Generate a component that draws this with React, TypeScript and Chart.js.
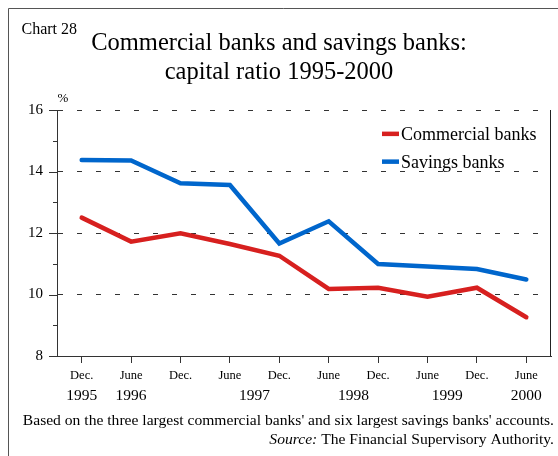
import React, { useEffect, useRef } from "react";
import { Chart, registerables } from "chart.js";

Chart.register(...registerables);

const categories = ["Dec.", "June", "Dec.", "June", "Dec.", "June", "Dec.", "June", "Dec.", "June"];
const commercialBanks = [12.5, 11.72, 11.99, 11.64, 11.26, 10.18, 10.22, 9.93, 10.22, 9.26];
const savingsBanks = [14.37, 14.36, 13.62, 13.56, 11.66, 12.38, 10.99, 10.91, 10.83, 10.49];
const years = ["1995", "1996", "1997", "1998", "1999", "2000"];
const yearPositions = [0, 1, 3.5, 5.5, 7.4, 9];
const seriesNames = ["Commercial banks", "Savings banks"];
const seriesColors = ["#d7201f", "#0066cc"];

const SERIF = "'Liberation Serif', 'Times New Roman', serif";

const decorPlugin = {
  id: "decor",
  afterDraw(chart: any) {
    const ctx = chart.ctx as CanvasRenderingContext2D;
    const area = chart.chartArea;
    const xs = chart.scales.x;
    const ys = chart.scales.y;
    ctx.save();

    // outer frame
    ctx.strokeStyle = "#555";
    ctx.lineWidth = 1;
    ctx.beginPath();
    ctx.moveTo(8.5, 456);
    ctx.lineTo(8.5, 8.5);
    ctx.lineTo(558, 8.5);
    ctx.stroke();

    // right border of plot
    ctx.strokeStyle = "#222";
    ctx.beginPath();
    ctx.moveTo(Math.round(area.right) - 0.5, area.top);
    ctx.lineTo(Math.round(area.right) - 0.5, area.bottom);
    ctx.stroke();

    // y ticks
    ctx.strokeStyle = "#333";
    for (let v = 8; v <= 16; v++) {
      const py = Math.round(ys.getPixelForValue(v)) + 0.5;
      const len = v % 2 === 0 ? 8 : 4;
      ctx.beginPath();
      ctx.moveTo(area.left - len, py);
      ctx.lineTo(area.left, py);
      ctx.stroke();
    }

    ctx.fillStyle = "#000";
    // Chart label
    ctx.font = `16px ${SERIF}`;
    ctx.textAlign = "left";
    ctx.textBaseline = "alphabetic";
    ctx.fillText("Chart 28", 21.5, 33.5);

    // title
    ctx.font = `24.5px ${SERIF}`;
    ctx.textAlign = "center";
    ctx.fillText("Commercial banks and savings banks:", 279, 49.5);
    ctx.fillText("capital ratio 1995-2000", 279, 78.5);

    // % unit
    ctx.font = `13px ${SERIF}`;
    ctx.fillText("%", 63, 101.5);

    // years
    ctx.font = `15.5px ${SERIF}`;
    ctx.textBaseline = "middle";
    years.forEach((y, i) => {
      ctx.fillText(y, xs.getPixelForValue(yearPositions[i]), 396);
    });

    // legend
    ctx.textAlign = "left";
    ctx.textBaseline = "alphabetic";
    ctx.font = `18px ${SERIF}`;
    chart.data.datasets.forEach((ds: any, i: number) => {
      const cy = 133.8 + i * 27.8;
      ctx.fillStyle = ds.borderColor;
      ctx.fillRect(382, cy - 2.2, 17, 4.5);
      ctx.fillStyle = "#000";
      ctx.fillText(ds.label, 401, cy + 6.3);
    });

    // footer
    ctx.textAlign = "right";
    ctx.font = `15.6px ${SERIF}`;
    ctx.fillText(
      "Based on the three largest commercial banks' and six largest savings banks' accounts.",
      554,
      424.5
    );
    const rest = " The Financial Supervisory Authority.";
    ctx.fillText(rest, 554, 443.5);
    const w = ctx.measureText(rest).width;
    ctx.font = `italic 15.6px ${SERIF}`;
    ctx.fillText("Source:", 554 - w, 443.5);

    ctx.restore();
  },
};

export default function App() {
  const ref = useRef<HTMLCanvasElement | null>(null);

  useEffect(() => {
    if (!ref.current) return;
    Chart.defaults.font.family = SERIF;
    const chart = new Chart(ref.current, {
      type: "line",
      data: {
        labels: categories,
        datasets: [
          {
            label: seriesNames[0],
            data: commercialBanks,
            borderColor: seriesColors[0],
            backgroundColor: seriesColors[0],
            borderWidth: 4.5,
            pointRadius: 0,
            borderCapStyle: "round",
            tension: 0,
          },
          {
            label: seriesNames[1],
            data: savingsBanks,
            borderColor: seriesColors[1],
            backgroundColor: seriesColors[1],
            borderWidth: 4.5,
            pointRadius: 0,
            borderCapStyle: "round",
            tension: 0,
          },
        ],
      },
      options: {
        responsive: false,
        animation: false,
        devicePixelRatio: 1,
        layout: { padding: { top: 110, right: 7, left: 0, bottom: 0 } },
        plugins: {
          legend: { display: false },
          title: { display: false },
          tooltip: { enabled: false },
        },
        scales: {
          x: {
            type: "category",
            offset: true,
            afterFit: (s: any) => {
              s.height = 100;
            },
            grid: {
              display: true,
              drawOnChartArea: false,
              drawTicks: true,
              tickLength: 7,
              color: "#333",
              offset: false,
            },
            border: { display: true, color: "#333", width: 1 },
            ticks: {
              font: { size: 12.5, family: SERIF },
              color: "#000",
              padding: 5,
              maxRotation: 0,
              autoSkip: false,
            },
          },
          y: {
            min: 8,
            max: 16,
            afterFit: (s: any) => {
              s.width = 57;
            },
            grid: {
              drawTicks: false,
              color: (c: any) => (c.tick && c.tick.value === 8 ? "rgba(0,0,0,0)" : "#333"),
              lineWidth: 1,
            },
            border: { display: true, color: "#333", width: 1, dash: [5, 14] },
            ticks: {
              stepSize: 2,
              font: { size: 15, family: SERIF },
              color: "#000",
              padding: 14,
            },
          },
        },
      },
      plugins: [decorPlugin],
    });
    return () => chart.destroy();
  }, []);

  return (
    <div style={{ position: "absolute", left: 0, top: 0, width: 558, height: 456, background: "#fff" }}>
      <canvas ref={ref} width={558} height={456} style={{ display: "block" }} />
    </div>
  );
}
